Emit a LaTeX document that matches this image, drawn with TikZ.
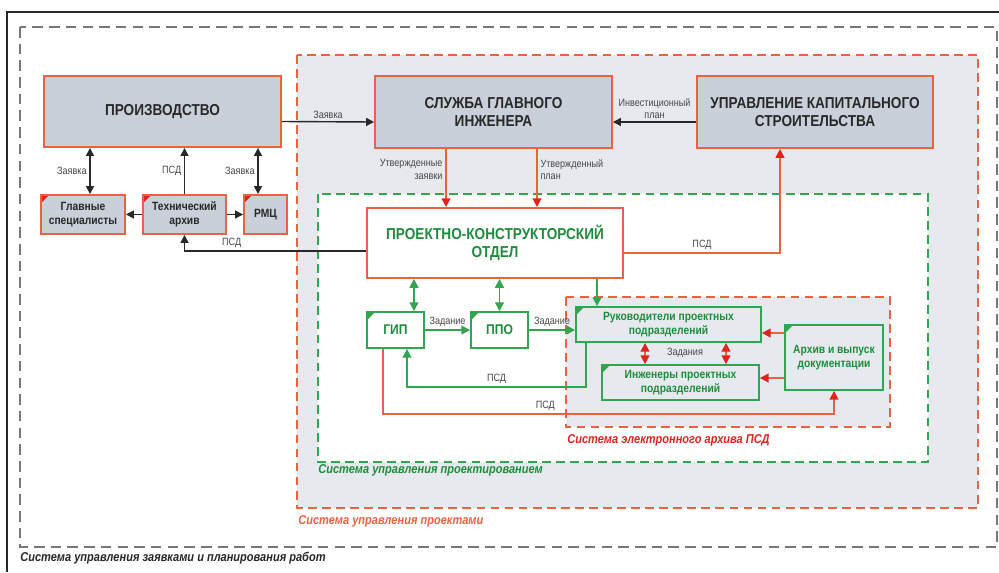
\documentclass[tikz,border=0pt]{standalone}
\usepackage{fontspec}
\setmainfont{Liberation Sans}[FakeStretch=0.86]
\usetikzlibrary{arrows.meta,positioning}
\definecolor{frame}{RGB}{232,100,64}
\definecolor{boxgray}{RGB}{201,208,218}
\definecolor{areagray}{RGB}{230,234,239}
\definecolor{darkgreen}{RGB}{30,140,60}
\definecolor{linegreen}{RGB}{50,165,80}
\definecolor{arrowred}{RGB}{225,35,30}
\definecolor{dashgray}{RGB}{120,120,120}
\definecolor{txt}{RGB}{40,40,40}
\tikzset{%
  dept/.style={draw=frame, line width=1.1pt, fill=boxgray, text=txt, align=center, inner sep=1pt},% department box
  bigdept/.style={dept, font=\fontsize{9}{10.5}\selectfont\bfseries},
  smalldept/.style={dept, font=\fontsize{6.8}{8}\selectfont\bfseries,
    path picture={\fill[arrowred] (path picture bounding box.north west) -- ++(0.16cm,0cm) -- ++(-0.16cm,-0.16cm) -- cycle;}},
  gdept/.style={draw=linegreen, line width=1pt, fill=white, text=darkgreen, align=center, inner sep=1pt,
    font=\fontsize{6.8}{8}\selectfont\bfseries,
    path picture={\fill[linegreen] (path picture bounding box.north west) -- ++(0.16cm,0cm) -- ++(-0.16cm,-0.16cm) -- cycle;}},
  zone/.style={font=\fontsize{7.3}{8}\selectfont\bfseries\itshape, anchor=west, inner sep=0pt},% system label
  lbl/.style={font=\fontsize{6}{7}\selectfont, text=txt!85, inner sep=1.5pt},
  flow/.style={draw=txt, line width=0.8pt},
  gflow/.style={draw=linegreen, line width=1pt, >={Triangle[length=5pt,width=5pt]}},
  rflow/.style={draw=frame, line width=1pt, >={Triangle[length=5pt,width=5pt,color=arrowred]}}
}

\begin{document}
\begin{tikzpicture}[x=0.02cm, y=-0.02cm, >={Triangle[length=4.5pt,width=4.5pt]}]
\useasboundingbox[fill=white] (0,0) rectangle (999,572);

% frames
\draw[txt, line width=0.8pt] (7,572) -- (7,12) -- (999,12);
\draw[dashgray, line width=1.2pt, dash pattern=on 6pt off 3.5pt] (20,27) rectangle (997,547);
\draw[frame, fill=areagray, line width=1.1pt, dash pattern=on 5pt off 3pt] (297,55) rectangle (978,508);
\draw[linegreen, fill=white, line width=1.1pt, dash pattern=on 5pt off 3pt] (318,194) rectangle (928,462);
\draw[frame, fill=areagray, line width=1.1pt, dash pattern=on 5pt off 3pt] (566,297) rectangle (890,427);

\node[zone, text=txt] (zoneA) at (20,558) {Система управления заявками и планирования работ};
\node[zone, text=frame] (zoneB) at (298,521) {Система управления проектами};
\node[zone, text=darkgreen] (zoneC) at (318,470) {Система управления проектированием};
\node[zone, text=arrowred] (zoneD) at (567,440) {Система электронного архива ПСД};

% departments
\node[bigdept, minimum width=4.74cm, minimum height=1.42cm] (proizv) at (162.5,111.5) {ПРОИЗВОДСТВО};
\node[bigdept, minimum width=4.74cm, minimum height=1.44cm] (sgi) at (493.5,112) {СЛУЖБА ГЛАВНОГО\\ИНЖЕНЕРА};
\node[bigdept, minimum width=4.72cm, minimum height=1.44cm] (uks) at (815,112) {УПРАВЛЕНИЕ КАПИТАЛЬНОГО\\СТРОИТЕЛЬСТВА};
\node[bigdept, fill=white, text=darkgreen, minimum width=5.12cm, minimum height=1.4cm] (pko) at (495,243) {ПРОЕКТНО-КОНСТРУКТОРСКИЙ\\ОТДЕЛ};

\node[smalldept, minimum width=1.68cm, minimum height=0.78cm] (glav) at (83,214.5) {Главные\\специалисты};
\node[smalldept, minimum width=1.66cm, minimum height=0.78cm] (tech) at (184.5,214.5) {Технический\\архив};
\node[smalldept, minimum width=0.86cm, minimum height=0.78cm] (rmc) at (265.5,214.5) {РМЦ};

\node[gdept, font=\fontsize{8}{9}\selectfont\bfseries, minimum width=1.14cm, minimum height=0.72cm] (gip) at (395.5,330) {ГИП};
\node[gdept, font=\fontsize{8}{9}\selectfont\bfseries, minimum width=1.14cm, minimum height=0.72cm] (ppo) at (499.5,330) {ППО};
\node[gdept, fill=areagray, minimum width=3.7cm, minimum height=0.7cm] (ruk) at (668.5,324.5) {Руководители проектных\\подразделений};
\node[gdept, fill=areagray, minimum width=3.14cm, minimum height=0.7cm] (ing) at (680.5,382.5) {Инженеры проектных\\подразделений};
\node[gdept, fill=areagray, minimum width=1.96cm, minimum height=1.3cm] (arch) at (834,357.5) {Архив и выпуск\\документации};

% requests and documents
\draw[flow, <->] ([xshift=0.14cm]glav.north) -- node[lbl, left] {Заявка} ([xshift=0.14cm]glav.north |- proizv.south);
\draw[flow, ->] (tech.north) -- node[lbl, left] {ПСД} (tech.north |- proizv.south);
\draw[flow, <->] ([xshift=-0.15cm]rmc.north) -- node[lbl, left] {Заявка} ([xshift=-0.15cm]rmc.north |- proizv.south);
\draw[flow, ->] (tech.west) -- (glav.east);
\draw[flow, ->] (tech.east) -- (rmc.west);
\draw[flow, ->] ([yshift=-0.16cm]pko.west) -| node[lbl, above, pos=0.37] {ПСД} (tech.south);
\draw[flow, ->] ([yshift=-0.2cm]proizv.east) -- node[lbl, above] {Заявка} ([yshift=-0.2cm]sgi.west);
\draw[flow, ->] ([yshift=-0.2cm]uks.west) -- node[lbl, above, align=center] {Инвестиционный\\план} ([yshift=-0.2cm]sgi.east);

\draw[rflow, ->] ([xshift=-0.95cm]sgi.south) -- node[lbl, left, align=right, pos=0.35] {Утвержденные\\заявки} ([xshift=-0.95cm]sgi.south |- pko.north);
\draw[rflow, ->] ([xshift=0.87cm]sgi.south) -- node[lbl, right, align=left, pos=0.35] {Утвержденный\\план} ([xshift=0.87cm]sgi.south |- pko.north);
\draw[rflow, ->] ([yshift=-0.2cm]pko.east) -| node[lbl, above, pos=0.25] {ПСД} ([xshift=-0.7cm]uks.south);

% design office
\draw[gflow, <->] ([xshift=0.37cm]gip.north) -- ([xshift=0.37cm]gip.north |- pko.south);
\draw[gflow, <->] (ppo.north) -- (ppo.north |- pko.south);
\draw[gflow, ->] ([xshift=-1.43cm]ruk.north |- pko.south) -- ([xshift=-1.43cm]ruk.north);
\draw[gflow, ->] (gip.east) -- node[lbl, above] {Задание} (ppo.west);
\draw[gflow, ->] (ppo.east) -- node[lbl, above] {Задание} (ppo.east -| ruk.west);
\draw[gflow, ->] ([xshift=-1.65cm]ruk.south) -- ++(0cm,-0.88cm) -| node[lbl, above, pos=0.25] {ПСД} ([xshift=0.23cm]gip.south);
\draw[rflow, ->] ([xshift=-0.25cm]gip.south) -- ++(0cm,-1.3cm) -| node[lbl, above, pos=0.18] {ПСД} (arch.south);

% archive
\draw[rflow, <->] ([xshift=-0.47cm]ruk.south) -- ([xshift=-0.47cm]ruk.south |- ing.north);
\draw[rflow, <->] ([xshift=1.15cm]ruk.south) -- ([xshift=1.15cm]ruk.south |- ing.north);
\node[lbl] (zadaniya) at (685,353) {Задания};
\draw[rflow, ->] ([yshift=0.49cm]arch.west) -- ([yshift=0.49cm]arch.west -| ruk.east);
\draw[rflow, ->] ([yshift=-0.41cm]arch.west) -- ([yshift=-0.41cm]arch.west -| ing.east);
\end{tikzpicture}
\end{document}
